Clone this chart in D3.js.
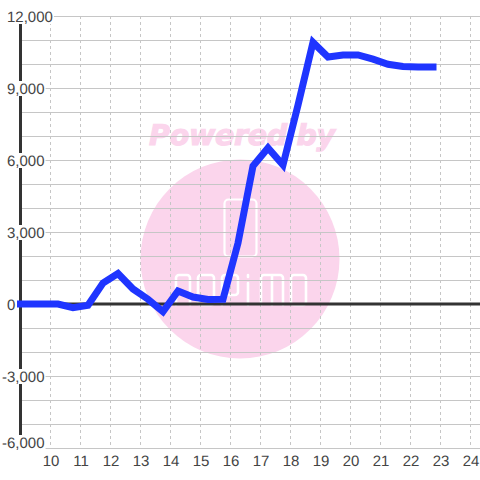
<!DOCTYPE html>
<html><head><meta charset="utf-8">
<script src="https://cdn.jsdelivr.net/npm/d3@7/dist/d3.min.js"></script>
<style>html,body{margin:0;padding:0;background:#fff}svg{display:block}text{text-rendering:geometricPrecision}</style>
</head><body><svg id="c" width="480" height="480"></svg>
<script>
const hours=[9,10.25,10.75,11.25,11.75,12.25,12.75,13.25,13.75,14.25,14.75,15.25,15.75,16.25,16.75,17.25,17.75,18.25,18.75,19.25,19.75,20.25,20.75,21.25,21.75,22.25,22.75];
const values=[0,0,-150,-50,875,1270,625,200,-320,540,290,190,200,2540,5750,6500,5790,8290,10900,10290,10375,10375,10200,9990,9900,9870,9870];
const yMajor=[12000,9000,6000,3000,0,-3000,-6000];
const yGrid=[12000,11000,10000,9000,8000,7000,6000,5000,4000,3000,2000,1000,-1000,-2000,-3000,-4000,-5000,-6000];
const xTicks=[10,11,12,13,14,15,16,17,18,19,20,21,22,23,24];
const font="'Liberation Sans',Arial,sans-serif";
const pink="#fbd5ec", grid="#c6c6c6", ink="#333333", labelInk="#444444", blue="#1f35ff";

const svg=d3.select("#c");
const x=d3.scaleLinear().domain([9,24]).range([20.5,470.5]);
const y=d3.scaleLinear().domain([-6000,12000]).range([448,16]);

// watermark
svg.append("circle").attr("cx",240).attr("cy",259).attr("r",99.5).attr("fill",pink);
svg.append("text").attr("x",242).attr("y",145).attr("text-anchor","middle")
  .attr("font-family","'DejaVu Sans',sans-serif").attr("font-weight","bold").attr("font-style","italic")
  .attr("font-size",28.5).attr("letter-spacing",-0.3).attr("fill",pink).attr("stroke",pink).attr("stroke-width",1.1).text("Powered by");
svg.append("rect").attr("x",224.5).attr("y",199.5).attr("width",32).attr("height",57).attr("rx",4)
  .attr("fill","none").attr("stroke","#fff").attr("stroke-width",2.2);
const logoGlyphs=[
  "M176,305V278a3,3 0 0 1 3,-3H187a3,3 0 0 1 3,3V305",
  "M198,278a3,3 0 0 1 3,-3H211a3,3 0 0 1 3,3V302a3,3 0 0 1 -3,3H201a3,3 0 0 1 -3,-3Z",
  "M222,305V278a3,3 0 0 1 3,-3H235a3,3 0 0 1 3,3V292a3,3 0 0 1 -3,3H222",
  "M248,283V305","M248,275V277",
  "M261,305V278a3,3 0 0 1 3,-3H280a3,3 0 0 1 3,3V305M272,275V305",
  "M291,278a3,3 0 0 1 3,-3H303a3,3 0 0 1 3,3V302a3,3 0 0 1 -3,3H294a3,3 0 0 1 -3,-3Z"
];
svg.append("g").selectAll("path").data(logoGlyphs).join("path").attr("d",d=>d)
  .attr("fill","none").attr("stroke","#fff").attr("stroke-width",2.6).attr("stroke-linecap","round");

// grid
svg.append("g").selectAll("line").data(xTicks).join("line")
  .attr("x1",d=>x(d)).attr("x2",d=>x(d)).attr("y1",16).attr("y2",448)
  .attr("stroke",grid).attr("stroke-width",1).attr("stroke-dasharray","3,3");
svg.append("g").selectAll("line").data(yGrid).join("line")
  .attr("x1",20).attr("x2",480).attr("y1",d=>y(d)+.5).attr("y2",d=>y(d)+.5)
  .attr("stroke",grid).attr("stroke-width",1);

// axis lines
svg.append("line").attr("x1",20.5).attr("x2",20.5).attr("y1",16).attr("y2",448).attr("stroke",ink).attr("stroke-width",3);
svg.append("line").attr("x1",20).attr("x2",480).attr("y1",y(0)).attr("y2",y(0)).attr("stroke",ink).attr("stroke-width",3);

// y labels with white backing
const yFmt=d=>d3.format(",")(d).replace("\u2212","-");
const ly=svg.append("g").selectAll("g").data(yMajor).join("g")
  .attr("transform",d=>`translate(0,${d===-6000?y(d)-6:y(d)})`);
ly.append("text").attr("x",d=>d<0?2:7).attr("y",5.5)
  .attr("font-family",font).attr("font-size",15).attr("fill",labelInk).text(d=>yFmt(d));
ly.each(function(){
  const g=d3.select(this), b=g.select("text").node().getBBox();
  g.insert("rect","text").attr("x",b.x).attr("y",-7).attr("width",b.width+1).attr("height",15).attr("fill","#fff");
});

// x labels
svg.append("g").selectAll("text").data(xTicks).join("text")
  .attr("x",d=>x(d)+.5).attr("y",466).attr("text-anchor","middle")
  .attr("font-family",font).attr("font-size",15).attr("fill",labelInk).text(d=>d);

// series
const line=d3.line().x((d,i)=>x(hours[i])).y(d=>y(d));
svg.append("path").attr("d",line(values)).attr("fill","none").attr("stroke",blue)
  .attr("stroke-width",7).attr("stroke-linejoin","miter").attr("stroke-linecap","square");
</script></body></html>
